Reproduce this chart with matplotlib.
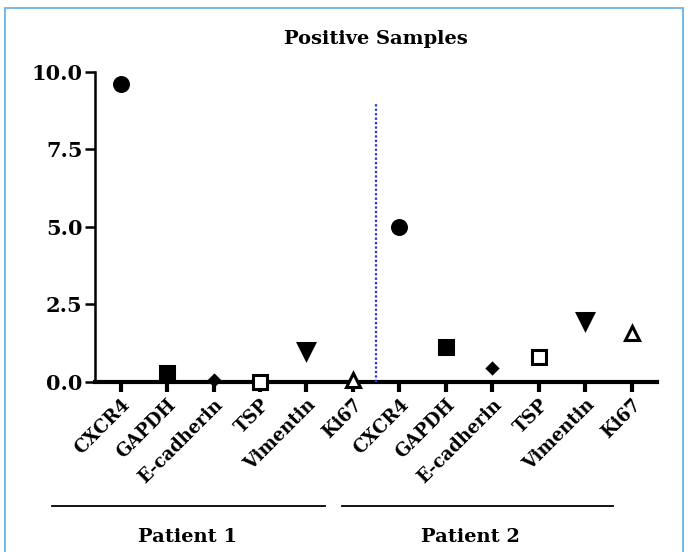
import matplotlib
matplotlib.use("Agg")
import matplotlib.pyplot as plt
from matplotlib.lines import Line2D
from matplotlib.patches import Rectangle

plt.rcParams['font.family'] = ['DejaVu Serif']
plt.rcParams['font.weight'] = 'bold'

genes = ['CXCR4', 'GAPDH', 'E-cadherin', 'TSP', 'Vimentin', 'Ki67']
patient1 = [9.6, 0.3, 0.05, 0.0, 1.0, 0.05]
patient2 = [5.0, 1.13, 0.45, 0.8, 1.97, 1.58]
markers = ['o', 's', 'D', 's', 'v', '^']
filled = [True, True, True, False, True, False]
sizes = [10, 10, 5, 10, 11, 10]
labels = genes + genes

fig = plt.figure(figsize=(6.89, 5.52), dpi=100)
ax = fig.add_axes([0.138, 0.308, 0.816, 0.562])

n = len(genes)
for i in range(n):
    for j, vals in enumerate([patient1, patient2]):
        x = i + j * n
        ax.plot(x, vals[i], marker=markers[i], ms=sizes[i], color='black',
                mfc='black' if filled[i] else 'white', mew=2.2,
                linestyle='none', clip_on=False, zorder=5)

# divider between patients
ax.plot([5.5, 5.5], [0, 9], color='#2233dd', linestyle=(0, (1, 1)), lw=1.6, zorder=3)

ax.set_xlim(-0.55, 11.55)
ax.set_ylim(0, 10)
ax.set_yticks([0, 2.5, 5, 7.5, 10])
ax.set_yticklabels(['0.0', '2.5', '5.0', '7.5', '10.0'], fontsize=15, fontweight='bold')
ax.set_xticks(range(len(labels)))
ax.set_xticklabels(labels, rotation=45, ha='right', rotation_mode='anchor',
                   fontsize=13, fontweight='bold')

for s in ['top', 'right']:
    ax.spines[s].set_visible(False)
ax.spines['left'].set_linewidth(1.8)
ax.spines['bottom'].set_linewidth(3)
ax.tick_params(axis='y', length=7, width=1.8, pad=2)
ax.tick_params(axis='x', length=7, width=3, pad=3)

ax.set_title('Positive Samples', fontsize=14, fontweight='bold', pad=20)

# patient group lines
fig.add_artist(Line2D([52 / 689, 325 / 689], [1 - 506 / 552] * 2, color='black', lw=1.3))
fig.add_artist(Line2D([342 / 689, 613 / 689], [1 - 506 / 552] * 2, color='black', lw=1.3))
fig.text(188 / 689, 1 - 537 / 552, 'Patient 1', ha='center', va='center', fontsize=14, fontweight='bold')
fig.text(470 / 689, 1 - 537 / 552, 'Patient 2', ha='center', va='center', fontsize=14, fontweight='bold')

# light blue frame
fig.add_artist(Rectangle((5 / 689, -0.02), 678 / 689, 1 - 8 / 552 + 0.02,
                         transform=fig.transFigure, fill=False,
                         edgecolor='#5aaee0', lw=1.2))

fig.savefig('out.png', dpi=100)
